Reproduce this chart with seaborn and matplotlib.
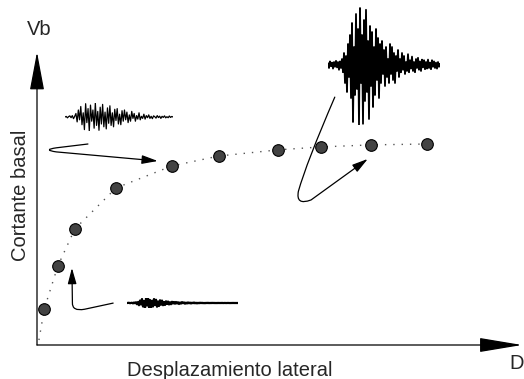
import numpy as np
import matplotlib
matplotlib.use("Agg")
import matplotlib.pyplot as plt
from matplotlib.path import Path
from matplotlib.patches import FancyArrowPatch
import seaborn as sns

# ---------------- data ----------------
desplazamiento = [1.5, 4.3, 7.8, 16.3, 27.8, 37.5, 49.7, 58.6, 68.9, 80.4]
cortante = [12.3, 27.0, 39.6, 53.6, 61.1, 64.5, 66.6, 67.6, 68.3, 68.6]
curva_x = [0.4, 1.5, 4.3, 7.8, 16.3, 27.8, 37.5, 49.7, 58.6, 68.9, 80.4]
curva_y = [1.7, 12.3, 27.0, 39.6, 53.6, 61.1, 64.5, 66.6, 67.6, 68.3, 68.6]

# accelerograms (relative amplitude)
sismo_medio = [0, 0.04, -0.06, 0.03, 0.08, -0.05, 0.1, -0.12, 0.05, 0.25,
               -0.35, 0.5, -0.2, 0.75, -0.55, 0.3, -0.9, 0.95, -0.4, 0.6,
               -1.0, 0.85, -0.3, 0.5, -0.8, 1.0, -0.6, 0.4, -0.95, 0.7,
               -0.5, 0.9, -0.7, 0.35, -0.85, 0.65, -0.45, 0.8, -0.6, 0.3,
               -0.7, 0.55, -0.25, 0.6, -0.5, 0.2, -0.55, 0.45, -0.3, 0.5,
               -0.2, 0.35, -0.4, 0.15, -0.3, 0.4, -0.1, 0.25, -0.3, 0.1,
               -0.15, 0.3, -0.2, 0.05, -0.1, 0.2, -0.15, 0.1, -0.05, 0.15,
               -0.1, 0.05, -0.12, 0.08, 0.02, -0.08, 0.1, -0.04, 0.06, -0.1,
               0.05, -0.03, 0.08, -0.06, 0.02, -0.05, 0.07, -0.03, 0.04, 0]

sismo_fuerte = [0.03, -0.05, 0.06, -0.02, 0.04, -0.06, 0.05, -0.03, 0.07, -0.04,
                0.05, -0.08, 0.06, -0.05, 0.1, -0.12, 0.2,
                -0.3, 0.15, -0.45, 0.35, -0.2, 0.5, -0.55,
                0.7, -0.95, 0.3, -0.5, 0.85, -0.4, 0.6, -1.0, 0.95, -0.3,
                0.5, -0.98, 0.75, -0.6, 0.92, -0.45, 0.4, -0.9, 0.65, -0.35,
                0.55, -0.7, 0.3, -0.5, 0.6, -0.25, 0.45, -0.55, 0.35,
                -0.3, 0.4, -0.15, 0.25, -0.35, 0.3, -0.2, 0.1, -0.3, 0.35,
                -0.15, 0.3, -0.25, 0.2, -0.3, 0.15, -0.1, 0.25, -0.2, 0.1,
                -0.12, 0.2, -0.08, 0.15, -0.15, 0.05, -0.1, 0.18, -0.12, 0.08,
                -0.06, 0.14, -0.1, 0.05, -0.12, 0.1, -0.05, 0.12, -0.08, 0.06,
                -0.1, 0.09, -0.04, 0.08, -0.07, 0.05, -0.06, 0.09, -0.05, 0.04,
                -0.07, 0.08, -0.03, 0.06, -0.05, 0.04, -0.06, 0.05, -0.03, 0.02]

sismo_debil = [0, 0.02, 0.05, -0.05, 0.02, 0.05, -0.08, 0.1, -0.05, 0.15,
               -0.25, 0.2, -0.45, 0.5,
               -0.3, 0.8, -0.7, 0.4, -1.0, 0.9, -0.5, 1.0, -0.85, 0.6,
               -0.9, 0.45, -0.7, 0.8, -0.4, 0.65, -0.75, 0.3, -0.6, 0.55,
               -0.35, 0.5, -0.45, 0.2, -0.4, 0.35, -0.2, 0.3, -0.3, 0.15,
               -0.25, 0.25, -0.1, 0.2, -0.15,
               0.2, -0.1, 0.15, -0.2, 0.1, -0.12, 0.18, -0.05, 0.12, -0.15,
               0.08, -0.1, 0.12, -0.06, 0.08, -0.1, 0.06, -0.04, 0.1, -0.06,
               0.05, -0.08, 0.04, -0.05, 0.06, -0.03, 0.05, -0.04, 0.02, -0.05,
               0.03, -0.02, 0.04, -0.03, 0.02, -0.02, 0.03, -0.01, 0.02, -0.02,
               0.01, -0.02, 0.02, -0.01, 0.01, -0.01, 0.02, -0.01, 0, 0.01,
               -0.01, 0, 0.01, 0, -0.01, 0, 0, 0.01, 0, 0,
               0, 0, 0]

etiqueta_y = "Vb"
etiqueta_x = "D"
titulo_y = "Cortante basal"
titulo_x = "Desplazamiento lateral"

# ---------------- figure ----------------
sns.set_theme(style="white")
plt.rcParams["font.family"] = ["Liberation Sans", "DejaVu Sans"]

W, H = 524, 379
fig = plt.figure(figsize=(W / 100, H / 100), dpi=100)
fig.patch.set_facecolor("white")

def fx(px):
    return px / W

def fy(py):
    return 1 - py / H

ax = fig.add_axes([fx(37), fy(345), fx(522) - fx(37), fy(52) - fy(345)])
ax.set_xlim(0, 100)
ax.set_ylim(0, 100)
ax.axis("off")

# axes with arrows
ax.annotate("", xy=(100, 0), xytext=(0, 0),
            arrowprops=dict(arrowstyle="-|>,head_length=2.7,head_width=0.45",
                            color="black", lw=0.9, shrinkA=0, shrinkB=0,
                            mutation_scale=10), annotation_clip=False)
ax.annotate("", xy=(0, 100), xytext=(0, 0),
            arrowprops=dict(arrowstyle="-|>,head_length=2.4,head_width=0.45",
                            color="black", lw=0.9, shrinkA=0, shrinkB=0,
                            mutation_scale=10), annotation_clip=False)

# dotted capacity curve
sns.lineplot(x=curva_x, y=curva_y, ax=ax, color="#555555", lw=1.0,
             linestyle=(0, (1, 5)), sort=False)

# points
sns.scatterplot(x=desplazamiento, y=cortante, ax=ax, s=70, color="#434343",
                edgecolor="black", linewidth=0.8, zorder=5)

# curved arrows
def curved_arrow(verts, codes):
    p = Path(verts, codes)
    arr = FancyArrowPatch(path=p, arrowstyle="-|>,head_length=0.8,head_width=0.22",
                          mutation_scale=12, color="black", lw=0.9,
                          transform=ax.transData, clip_on=False)
    ax.add_patch(arr)

curved_arrow([(10.5, 68.6), (4.0, 67.3), (1.0, 66.6), (4.0, 65.9), (24.9, 62.8)],
             [Path.MOVETO, Path.LINETO, Path.CURVE3, Path.CURVE3, Path.LINETO])
curved_arrow([(61.4, 84.6), (55.5, 62.0), (53.9, 52.5), (53.3, 47.5), (56.5, 49.5), (68.2, 63.5)],
             [Path.MOVETO, Path.CURVE3, Path.CURVE3, Path.CURVE3, Path.CURVE3, Path.LINETO])
curved_arrow([(15.7, 14.3), (9.8, 12.2), (7.2, 11.4), (7.3, 14.5), (7.2, 26.3)],
             [Path.MOVETO, Path.LINETO, Path.CURVE3, Path.CURVE3, Path.LINETO])

# accelerograms
def sismo(vals, left, right, center, half, lw):
    a = fig.add_axes([fx(left), fy(center + half), fx(right) - fx(left), 2 * half / H])
    sns.lineplot(x=np.arange(len(vals)), y=vals, ax=a, color="black", lw=lw, sort=False)
    a.set_xlim(0, len(vals) - 1)
    a.set_ylim(-1, 1)
    a.axis("off")
    a.patch.set_alpha(0)

sismo(sismo_medio, 65, 173, 117, 14, 0.9)
sismo(sismo_fuerte, 328, 440, 65, 60, 1.3)
sismo(sismo_debil, 127, 238, 303, 5, 1.6)

# texts
fs = 14.5
fig.text(fx(27), fy(35), etiqueta_y, fontsize=fs, ha="left", va="baseline")
fig.text(fx(509), fy(369), etiqueta_x, fontsize=fs, ha="left", va="baseline")
fig.text(fx(127), fy(376), titulo_x, fontsize=fs, ha="left", va="baseline")
fig.text(fx(21), fy(195), titulo_y, fontsize=fs, ha="center", va="center", rotation=90)

fig.savefig("out.png", dpi=100, facecolor="white")
